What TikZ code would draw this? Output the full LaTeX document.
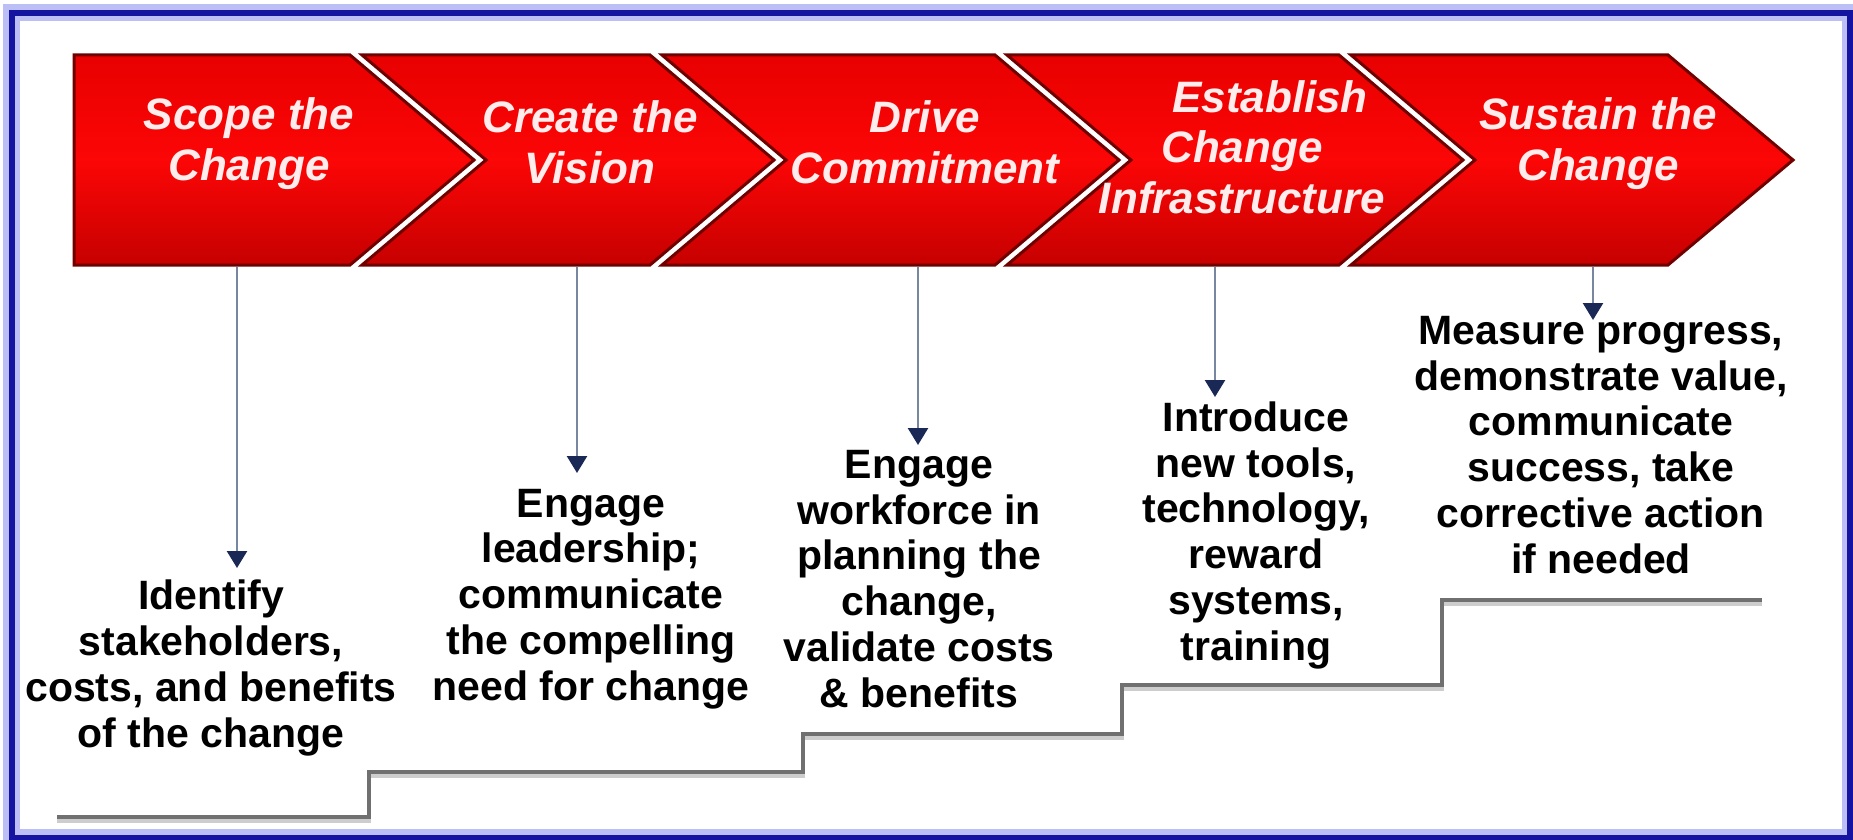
\documentclass[tikz,border=0pt]{standalone}
\usepackage{fontspec}
\setmainfont{Liberation Sans}
\usetikzlibrary{arrows.meta}
\definecolor{framedark}{RGB}{20,20,160}
\definecolor{framelight}{RGB}{188,190,246}
\definecolor{chevtop}{RGB}{232,0,0}
\definecolor{chevmid}{RGB}{252,6,6}
\definecolor{chevbot}{RGB}{198,0,0}
\definecolor{chevedge}{RGB}{112,0,0}
\definecolor{chevtext}{RGB}{255,236,236}
\definecolor{stepgray}{RGB}{112,112,112}
\definecolor{stepshade}{RGB}{205,205,205}
\definecolor{arrline}{RGB}{120,135,160}
\definecolor{arrhead}{RGB}{25,40,85}
\tikzset{
  chevron/.style={draw=chevedge, line width=3pt, line join=miter,
    top color=chevtop, bottom color=chevbot, middle color=chevmid},
  chevlabel/.style={font=\fontsize{44}{50.5}\selectfont\bfseries\itshape,
    text=chevtext, align=center, anchor=base, inner sep=0pt},
  desc/.style={font=\fontsize{41}{45.7}\selectfont\bfseries, text=black,
    align=center, anchor=base, inner sep=0pt},
  pointer/.style={draw=arrline, line width=2.5pt,
    -{Triangle[width=20pt,length=17pt,color=arrhead]}},
  stairline/.style={draw=stepgray, line width=4pt, line join=miter},
  stairshade/.style={draw=stepshade, line width=4pt, line join=miter},
}
\begin{document}
\begin{tikzpicture}[x=1pt,y=-1pt]
\useasboundingbox (0,0) rectangle (1853,840);
\fill[white] (0,0) rectangle (1853,840);
% frame
\draw[framelight, line width=17pt] (11.5,13) rectangle (1850,837.5);
\draw[framedark, line width=6pt] (11.5,13) rectangle (1850,837.5);

% chevrons
\path[chevron] (74,55) -- (350,55) -- (474,160) -- (350,265) -- (74,265) -- cycle;
\path[chevron] (362,55) -- (650,55) -- (774,160) -- (650,265) -- (362,265) -- (486,160) -- cycle;
\path[chevron] (662,55) -- (995,55) -- (1119,160) -- (995,265) -- (662,265) -- (786,160) -- cycle;
\path[chevron] (1007,55) -- (1339,55) -- (1463,160) -- (1339,265) -- (1007,265) -- (1131,160) -- cycle;
\path[chevron] (1351,55) -- (1668,55) -- (1793,160) -- (1668,265) -- (1351,265) -- (1475,160) -- cycle;

% chevron labels (anchor = baseline of last line)
\node[chevlabel] (c1) at (249,180) {Scope the\\Change};
\node[chevlabel] (c2) at (590,183) {Create the\\Vision};
\node[chevlabel] (c3) at (925,183) {Drive\\Commitment};
\node[chevlabel] (c4) at (1242,213) {\hspace*{56pt}Establish\\Change\\Infrastructure};
\node[chevlabel] (c5) at (1598,180) {Sustain the\\Change};

% stairs
\draw[stairshade] (57,821) -- (369,821) -- (369,776) -- (803,776) -- (803,738) -- (1122,738) -- (1122,689) -- (1442,689) -- (1442,604) -- (1762,604);
\draw[stairline] (57,817) -- (369,817) -- (369,772) -- (803,772) -- (803,734) -- (1122,734) -- (1122,685) -- (1442,685) -- (1442,600) -- (1762,600);

% descriptions (anchor = baseline of last line)
\node[desc] (d1) at (211,747) {Identify\\stakeholders,\\costs, and benefits\\of the change};
\node[desc] (d2) at (591,700) {Engage\\leadership;\\communicate\\the compelling\\need for change};
\node[desc] (d3) at (919,707) {Engage\\workforce in\\planning the\\change,\\validate costs\\\& benefits};
\node[desc] (d4) at (1256,660) {Introduce\\new tools,\\technology,\\reward\\systems,\\training};
\node[desc] (d5) at (1601,573) {Measure progress,\\demonstrate value,\\communicate\\success, take\\corrective action\\if needed};

% pointer coordinates
\coordinate (a1s) at (237,267); \coordinate (a1e) at (237,568);
\coordinate (a2s) at (577,267); \coordinate (a2e) at (577,473);
\coordinate (a3s) at (918,267); \coordinate (a3e) at (918,445);
\coordinate (a4s) at (1215,267); \coordinate (a4e) at (1215,397);
\coordinate (a5s) at (1593,267); \coordinate (a5e) at (1593,320);
\draw[pointer] (a1s) -- (a1e);
\draw[pointer] (a2s) -- (a2e);
\draw[pointer] (a3s) -- (a3e);
\draw[pointer] (a4s) -- (a4e);
\draw[pointer] (a5s) -- (a5e);
\end{tikzpicture}
\end{document}
